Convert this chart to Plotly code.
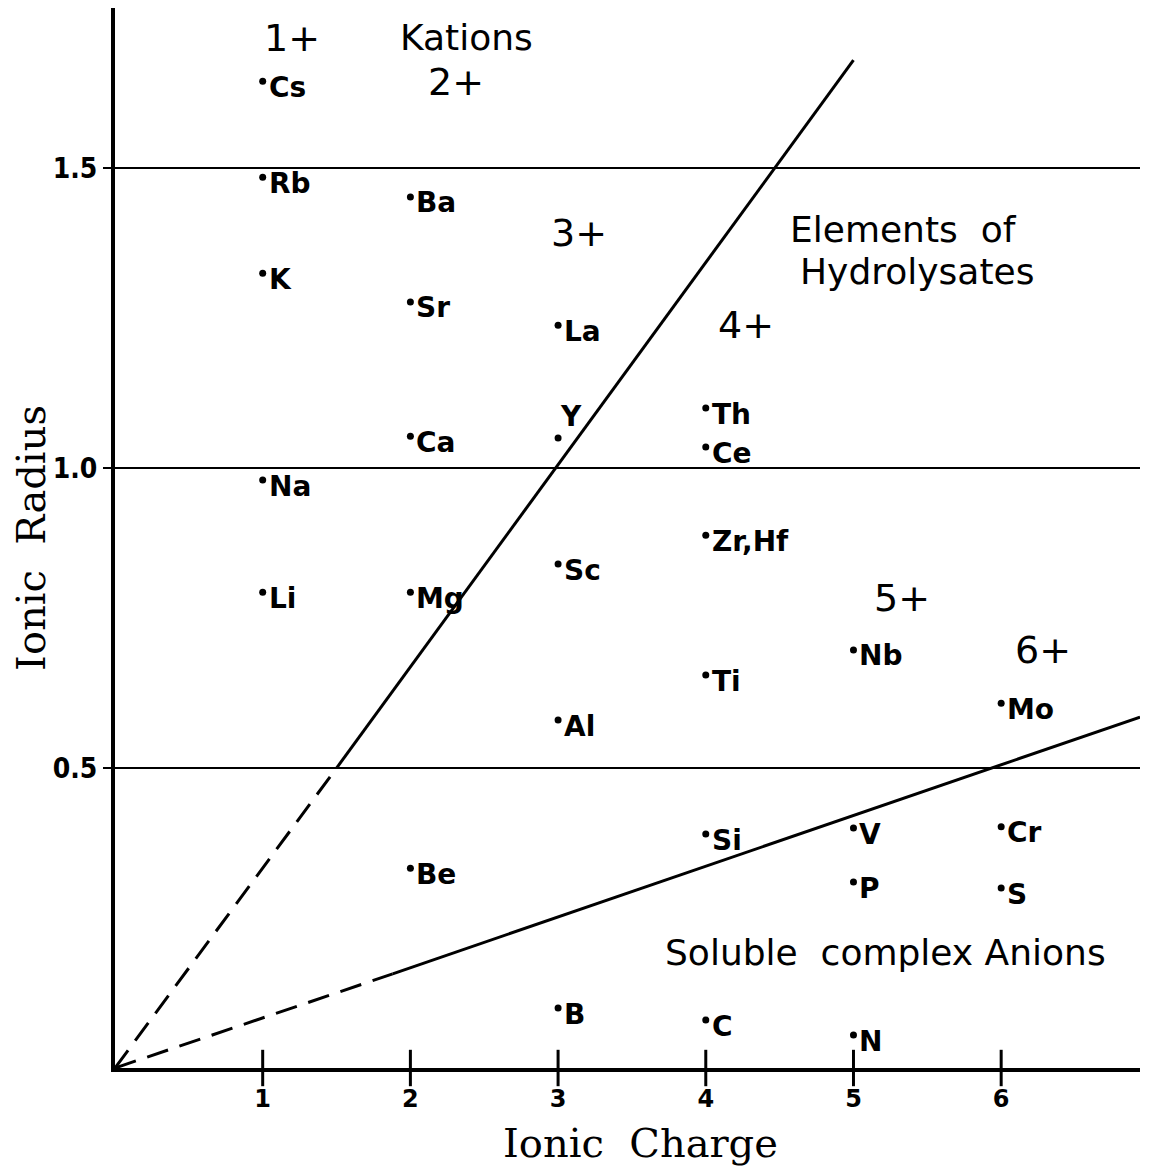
import plotly.graph_objects as go

# Ionic charge / ionic radius of the elements
charge = [1, 1, 1, 1, 1,
          2, 2, 2, 2, 2,
          3, 3, 3, 3, 3,
          4, 4, 4, 4, 4, 4,
          5, 5, 5, 5,
          6, 6, 6]
radius = [1.645, 1.485, 1.325, 0.98, 0.793,
          1.452, 1.277, 1.053, 0.793, 0.333,
          1.238, 1.05, 0.84, 0.58, 0.10,
          1.10, 1.035, 0.888, 0.655, 0.39, 0.08,
          0.697, 0.40, 0.31, 0.055,
          0.608, 0.402, 0.30]
element = ["Cs", "Rb", "K", "Na", "Li",
           "Ba", "Sr", "Ca", "Mg", "Be",
           "La", "Y", "Sc", "Al", "B",
           "Th", "Ce", "Zr,Hf", "Ti", "Si", "C",
           "Nb", "V", "P", "N",
           "Mo", "Cr", "S"]

# boundary lines (charge, radius)
steep_dash_x = [0, 1.5]
steep_dash_y = [0, 0.5]
steep_x = [1.5, 5.0]
steep_y = [0.5, 1.68]
flat_dash_x = [0, 1.88]
flat_dash_y = [0, 0.157]
flat_x = [1.88, 6.94]
flat_y = [0.157, 0.585]

x_ticks = [1, 2, 3, 4, 5, 6]
y_ticks = [0.5, 1.0, 1.5]
y_ticktext = ["0.5", "1.0", "1.5"]

group_labels = ["1+", "2+", "3+", "4+", "5+", "6+"]

LABEL_FONT = "DejaVu Sans, Verdana, sans-serif"
TITLE_FONT = "DejaVu Serif, Liberation Serif, serif"

fig = go.Figure()

# dividing lines
for xs, ys, dash in [(steep_dash_x, steep_dash_y, "22px,12px"),
                     (steep_x, steep_y, "solid"),
                     (flat_dash_x, flat_dash_y, "22px,12px"),
                     (flat_x, flat_y, "solid")]:
    fig.add_trace(go.Scatter(
        x=xs, y=ys, mode="lines",
        line=dict(color="black", width=3, dash=dash),
        hoverinfo="skip", showlegend=False
    ))

# x tick marks crossing the axis
fig.add_trace(go.Scatter(
    x=x_ticks, y=[0] * len(x_ticks), mode="markers",
    marker=dict(symbol="line-ns", size=26, line=dict(width=3, color="black")),
    cliponaxis=False, hoverinfo="skip", showlegend=False
))

# element dots
fig.add_trace(go.Scatter(
    x=charge, y=radius, mode="markers",
    marker=dict(size=7, color="black"),
    text=element,
    hovertemplate="<b>%{text}</b><br>Charge: %{x}<br>Radius: %{y}<extra></extra>",
    showlegend=False
))

# element labels
special_shift = {"Y": (0, 22)}
for z, r, name in zip(charge, radius, element):
    dx, dy = special_shift.get(name, (4, -6))
    fig.add_annotation(
        x=z, y=r, text=name, showarrow=False,
        xanchor="left", yanchor="middle", xshift=dx, yshift=dy,
        font=dict(family=LABEL_FONT, size=28, color="black", weight="bold")
    )

# charge group labels
group_pos = [(1.2, 1.717), (2.31, 1.643), (3.14, 1.392),
             (4.27, 1.238), (5.33, 0.783), (6.28, 0.697)]
for lab, (gx, gy) in zip(group_labels, group_pos):
    fig.add_annotation(
        x=gx, y=gy, text=lab, showarrow=False,
        xanchor="center", yanchor="middle",
        font=dict(family=LABEL_FONT, size=38, color="black")
    )

# region labels
region_text = [("Kations", 2.38, 1.717),
               ("Elements\u00a0\u00a0of", 5.34, 1.397),
               ("Hydrolysates", 5.43, 1.327),
               ("Soluble\u00a0\u00a0complex\u00a0Anions", 5.22, 0.192)]
for txt, tx, ty in region_text:
    fig.add_annotation(
        x=tx, y=ty, text=txt, showarrow=False,
        xanchor="center", yanchor="middle",
        font=dict(family=LABEL_FONT, size=36, color="black")
    )

# x axis title, placed close under the tick labels
fig.add_annotation(
    x=0.513, y=-0.071, xref="paper", yref="paper",
    text="Ionic\u00a0\u00a0Charge", showarrow=False,
    xanchor="center", yanchor="middle",
    font=dict(family=TITLE_FONT, size=40, color="black")
)

fig.update_layout(
    width=1142,
    height=1164,
    margin=dict(l=105, r=10, t=0, b=104),
    plot_bgcolor="white",
    paper_bgcolor="white",
    showlegend=False,
    xaxis=dict(
        range=[0, 6.94],
        tickvals=x_ticks,
        ticks="",
        ticklabelstandoff=6,
        tickfont=dict(family=LABEL_FONT, size=24, color="black", weight="bold"),
        showgrid=False,
        zeroline=False,
        showline=True,
        linecolor="black",
        linewidth=4,
    ),
    yaxis=dict(
        range=[0, 1.767],
        tickvals=y_ticks,
        ticktext=y_ticktext,
        ticks="outside",
        ticklen=8,
        tickwidth=2,
        tickcolor="black",
        tickfont=dict(family="Liberation Sans Narrow, DejaVu Sans Condensed, DejaVu Sans",
                      size=28, color="black", weight="bold"),
        showgrid=True,
        gridcolor="black",
        gridwidth=2,
        zeroline=False,
        showline=True,
        linecolor="black",
        linewidth=4,
        title=dict(text="Ionic\u00a0\u00a0Radius", standoff=17,
                   font=dict(family=TITLE_FONT, size=40, color="black")),
    ),
)

fig.write_html("out.html")
